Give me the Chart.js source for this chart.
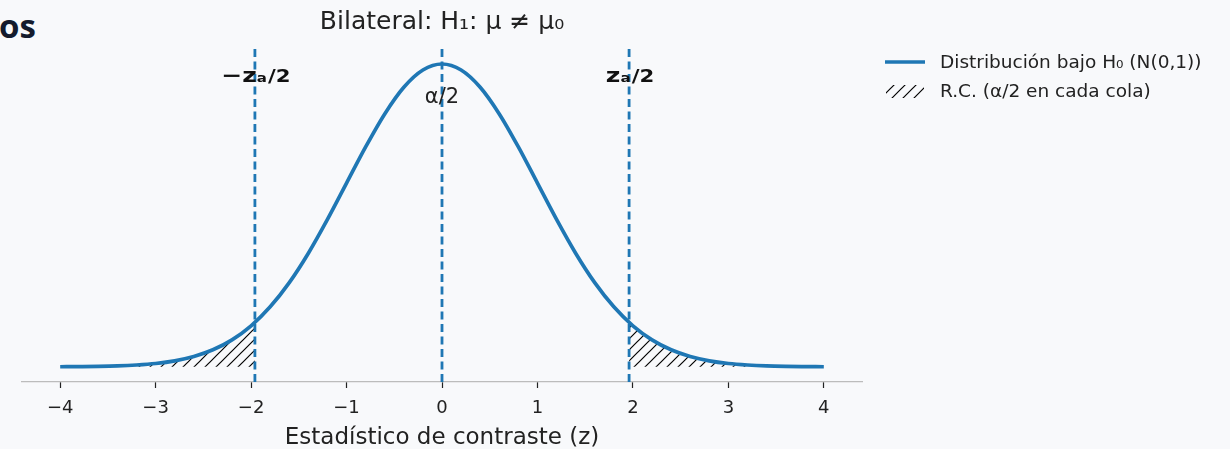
<!DOCTYPE html>
<html>
<head>
<meta charset="utf-8">
<script src="https://cdn.jsdelivr.net/npm/chart.js@4"></script>
<style>
  html, body { margin:0; padding:0; background:#f8f9fb; }
  body { width:1230px; height:449px; position:relative; overflow:hidden; }
  #head { position:absolute; left:-1px; top:3px; font-family:"Open Sans", "Noto Sans", sans-serif; font-weight:700; font-size:33px; color:#141b2d; white-space:nowrap; }
  canvas { position:absolute; left:0; top:0; }
</style>
</head>
<body>
<div id="head">os</div>
<canvas id="c" width="1230" height="449"></canvas>
<script>
// ---- data ----
const zValues = [-4,-3.8,-3.6,-3.4,-3.2,-3,-2.8,-2.6,-2.4,-2.2,-2,-1.8,-1.6,-1.4,-1.2,-1,-0.8,-0.6,-0.4,-0.2,0,
                 0.2,0.4,0.6,0.8,1,1.2,1.4,1.6,1.8,2,2.2,2.4,2.6,2.8,3,3.2,3.4,3.6,3.8,4];
const densityValues = [0.0001,0.0003,0.0006,0.0012,0.0024,0.0044,0.0079,0.0136,0.0224,0.0355,0.0540,0.0790,0.1109,0.1497,0.1942,0.2420,0.2897,0.3332,0.3683,0.3910,0.3989,
                       0.3910,0.3683,0.3332,0.2897,0.2420,0.1942,0.1497,0.1109,0.0790,0.0540,0.0355,0.0224,0.0136,0.0079,0.0044,0.0024,0.0012,0.0006,0.0003,0.0001];
const leftTailZ = [-4,-3.8,-3.6,-3.4,-3.2,-3,-2.8,-2.6,-2.4,-2.2,-2,-1.96];
const leftTailDensity = [0.0001,0.0003,0.0006,0.0012,0.0024,0.0044,0.0079,0.0136,0.0224,0.0355,0.0540,0.0584];
const rightTailZ = [1.96,2,2.2,2.4,2.6,2.8,3,3.2,3.4,3.6,3.8,4];
const rightTailDensity = [0.0584,0.0540,0.0355,0.0224,0.0136,0.0079,0.0044,0.0024,0.0012,0.0006,0.0003,0.0001];
const markerLines = [-1.96, 0, 1.96];
const tickValues = [-4,-3,-2,-1,0,1,2,3,4];
const tickLabels = ['\u22124','\u22123','\u22122','\u22121','0','1','2','3','4'];
const titleText = 'Bilateral: H\u2081: \u03bc \u2260 \u03bc\u2080';
const legendLabels = ['Distribuci\u00f3n bajo H\u2080 (N(0,1))', 'R.C. (\u03b1/2 en cada cola)'];
const xTitle = 'Estad\u00edstico de contraste (z)';
const centerLabel = '\u03b1/2';

const BLUE = '#1f77b4';
const FONT = '"DejaVu Sans", sans-serif';

function hatchPattern(ctx) {
  const s = 11;
  const pc = document.createElement('canvas');
  pc.width = s; pc.height = s;
  const p = pc.getContext('2d');
  p.strokeStyle = '#000';
  p.lineWidth = 1.2;
  p.beginPath();
  p.moveTo(0, s); p.lineTo(s, 0);
  p.moveTo(-s/2, s/2); p.lineTo(s/2, -s/2);
  p.moveTo(s/2, s*1.5); p.lineTo(s*1.5, s/2);
  p.stroke();
  return ctx.createPattern(pc, 'repeat');
}

const ctx = document.getElementById('c').getContext('2d');
const hatch = hatchPattern(ctx);

const pts = (xs, ys) => xs.map((x, i) => ({x: x, y: ys[i]}));

const vlineSets = markerLines.map(v => ({
  data: [{x: v, y: -0.02}, {x: v, y: 0.42}],
  borderColor: BLUE, borderWidth: 2.8, borderDash: [8, 4.5],
  pointRadius: 0, fill: false, tension: 0
}));

const labelsPlugin = {
  id: 'labels',
  afterDraw(chart) {
    const c = chart.ctx;
    const xs = chart.scales.x;
    const area = chart.chartArea;
    c.save();
    c.fillStyle = '#222';
    c.textBaseline = 'middle';
    c.textAlign = 'center';
    // title
    c.font = '25px ' + FONT;
    c.fillText(titleText, (area.left + area.right) / 2, 22);
    // alpha/2
    c.font = '21px ' + FONT;
    c.fillText(centerLabel, xs.getPixelForValue(0), 98);
    // critical labels
    function critLabel(prefix, xv) {
      c.save();
      c.textAlign = 'left';
      c.textBaseline = 'alphabetic';
      c.fillStyle = '#111';
      const sx = 1.25;
      const f1 = 'bold 20px ' + FONT, f2 = 'bold 12px ' + FONT, f3 = 'bold 17px ' + FONT;
      c.font = f1; const w1 = c.measureText(prefix).width;
      c.font = f2; const w2 = c.measureText('a').width + 1;
      c.font = f3; const w3 = c.measureText('/2').width;
      const total = (w1 + w2 + w3) * sx;
      const x0 = xs.getPixelForValue(xv) - total / 2 + 1;
      c.translate(x0, 82);
      c.scale(sx, 1);
      let x = 0;
      c.font = f1; c.fillText(prefix, x, 0); x += w1;
      c.font = f2; c.fillText('a', x, 0); x += w2;
      c.font = f3; c.fillText('/2', x, 0);
      c.restore();
    }
    critLabel('\u2212z', markerLines[0]);
    critLabel('z', markerLines[2]);
    // legend
    c.strokeStyle = BLUE; c.lineWidth = 3.4;
    c.beginPath(); c.moveTo(885, 62); c.lineTo(925, 62); c.stroke();
    c.fillStyle = hatch;
    c.fillRect(886, 85, 38, 13);
    c.fillStyle = '#222';
    c.font = '18.5px ' + FONT;
    c.textAlign = 'left'; c.textBaseline = 'middle';
    c.fillText(legendLabels[0], 940, 63);
    c.fillText(legendLabels[1], 940, 92);
    c.restore();
  }
};

new Chart(ctx, {
  type: 'line',
  data: {
    datasets: [
      ...vlineSets,
      { data: pts(zValues, densityValues), borderColor: BLUE, borderWidth: 3.7,
        pointRadius: 0, fill: false, cubicInterpolationMode: 'monotone' },
      { data: pts(leftTailZ, leftTailDensity), borderWidth: 0, borderColor: 'rgba(0,0,0,0)',
        backgroundColor: hatch, pointRadius: 0, fill: 'origin', cubicInterpolationMode: 'monotone' },
      { data: pts(rightTailZ, rightTailDensity), borderWidth: 0, borderColor: 'rgba(0,0,0,0)',
        backgroundColor: hatch, pointRadius: 0, fill: 'origin', cubicInterpolationMode: 'monotone' }
    ]
  },
  options: {
    responsive: false, animation: false, devicePixelRatio: 1,
    layout: { padding: { left: 22, right: 368, top: 48, bottom: 0 } },
    plugins: { legend: { display: false }, tooltip: { enabled: false } },
    scales: {
      x: {
        type: 'linear', min: -4.4, max: 4.4,
        afterBuildTicks: (axis) => { axis.ticks = tickValues.map(v => ({value: v})); },
        afterFit: (scale) => { scale.height = 67; },
        ticks: {
          callback: (v) => { const i = tickValues.indexOf(v); return i >= 0 ? tickLabels[i] : ''; },
          font: { family: FONT, size: 18 }, color: '#222', padding: 10, maxRotation: 0, autoSkip: false
        },
        grid: { drawOnChartArea: false, drawTicks: true, tickLength: 6, tickColor: '#222', tickWidth: 1.2 },
        border: { display: true, color: '#bcbcbc', width: 1.2 },
        title: { display: true, text: xTitle, font: { family: FONT, size: 23 }, color: '#222', padding: { top: 0, bottom: -3 } }
      },
      y: { display: false, min: -0.02, max: 0.42 }
    }
  },
  plugins: [labelsPlugin]
});
</script>
</body>
</html>
